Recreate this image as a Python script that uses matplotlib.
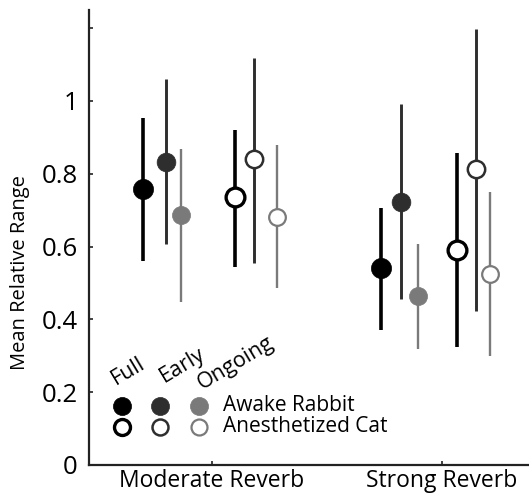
import matplotlib
matplotlib.use("Agg")
import matplotlib.pyplot as plt

# --- data -------------------------------------------------------------
conditions = ["Moderate Reverb", "Strong Reverb"]
windows = ["Full", "Early", "Ongoing"]
groups = ["Awake Rabbit", "Anesthetized Cat"]

# mean relative range per condition, ordered Full / Early / Ongoing
rabbit_mean = [[0.757, 0.833, 0.686], [0.540, 0.723, 0.464]]
rabbit_hi = [[0.952, 1.060, 0.869], [0.707, 0.993, 0.607]]
rabbit_lo = [[0.560, 0.607, 0.448], [0.372, 0.455, 0.320]]

cat_mean = [[0.736, 0.840, 0.682], [0.590, 0.813, 0.526]]
cat_hi = [[0.921, 1.119, 0.878], [0.857, 1.199, 0.750]]
cat_lo = [[0.543, 0.555, 0.487], [0.323, 0.424, 0.299]]

yticks = [0, 0.2, 0.4, 0.6, 0.8, 1.0, 1.2]
ytick_labels = ["0", "0.2", "0.4", "0.6", "0.8", "1", ""]

# --- layout / style ---------------------------------------------------
FONT = "Open Sans"
plt.rcParams["font.family"] = [FONT, "DejaVu Sans"]

# horizontal offsets of each point from its condition tick
rabbit_off = [[-0.297, -0.200, -0.132], [-0.265, -0.177, -0.104]]
cat_off = [[0.103, 0.184, 0.283], [0.068, 0.149, 0.209]]

colors = ["#000000", "#2e2e2e", "#7a7a7a"]
bar_lw = [2.6, 2.1, 1.7]
edge_lw = [2.4, 1.8, 1.6]
msize = [14.5, 13.5, 13.0]

W, H = 529, 494
fig = plt.figure(figsize=(W / 100, H / 100), dpi=100)
ax_l, ax_r, ax_b, ax_t = 89, 529, 465, 10
ax = fig.add_axes([ax_l / W, 1 - ax_b / H, (ax_r - ax_l) / W, (ax_b - ax_t) / H])

xpos = [1, 2]
for ci in range(len(conditions)):
    for wi in range(len(windows)):
        # awake rabbit: filled
        x = xpos[ci] + rabbit_off[ci][wi]
        ax.vlines(x, rabbit_lo[ci][wi], rabbit_hi[ci][wi], color=colors[wi],
                  lw=bar_lw[wi], zorder=2)
        ax.plot(x, rabbit_mean[ci][wi], "o", ms=msize[wi], mfc=colors[wi],
                mec=colors[wi], mew=0.5, zorder=3)
        # anesthetized cat: open
        x = xpos[ci] + cat_off[ci][wi]
        ax.vlines(x, cat_lo[ci][wi], cat_hi[ci][wi], color=colors[wi],
                  lw=bar_lw[wi], zorder=2)
        ax.plot(x, cat_mean[ci][wi], "o", ms=msize[wi] - 1, mfc="white",
                mec=colors[wi], mew=edge_lw[wi], zorder=3)

ax.set_xlim(0.467, 2.38)
ax.set_ylim(0, 1.25)
ax.set_xticks(xpos)
ax.set_xticklabels(conditions, fontsize=16.5)
ax.set_yticks(yticks)
ax.set_yticklabels(ytick_labels, fontsize=18.5)
ax.tick_params(axis="both", direction="in", length=3, width=1.2, color="#222222")
ax.tick_params(axis="y", pad=8)
ax.tick_params(axis="x", pad=3)
for s in ("top", "right"):
    ax.spines[s].set_visible(False)
for s in ("left", "bottom"):
    ax.spines[s].set_linewidth(1.6)
    ax.spines[s].set_color("#222222")

fig.text(20 / W, 1 - 273 / H, "Mean Relative Range", rotation=90,
         ha="center", va="center", fontsize=14.5)

# --- in-axes legend ---------------------------------------------------
leg_x = [0.0743, 0.161, 0.251]
row_y = [0.130, 0.084]
for wi in range(3):
    ax.plot(leg_x[wi], row_y[0], "o", ms=13, mfc=colors[wi], mec=colors[wi],
            mew=0.5, transform=ax.transAxes, clip_on=False)
    ax.plot(leg_x[wi], row_y[1], "o", ms=11.5, mfc="white", mec=colors[wi],
            mew=edge_lw[wi], transform=ax.transAxes, clip_on=False)
for gi, g in enumerate(groups):
    ax.text(0.304, row_y[gi], g, transform=ax.transAxes, ha="left",
            va="center", fontsize=15)

label_pos = [(0.062, 0.176), (0.170, 0.180), (0.258, 0.166)]
for wi, w in enumerate(windows):
    ax.text(label_pos[wi][0], label_pos[wi][1], w, transform=ax.transAxes,
            rotation=31, rotation_mode="anchor", ha="left", va="baseline",
            fontsize=15.5)

fig.savefig("out.png", dpi=100, facecolor="white")
